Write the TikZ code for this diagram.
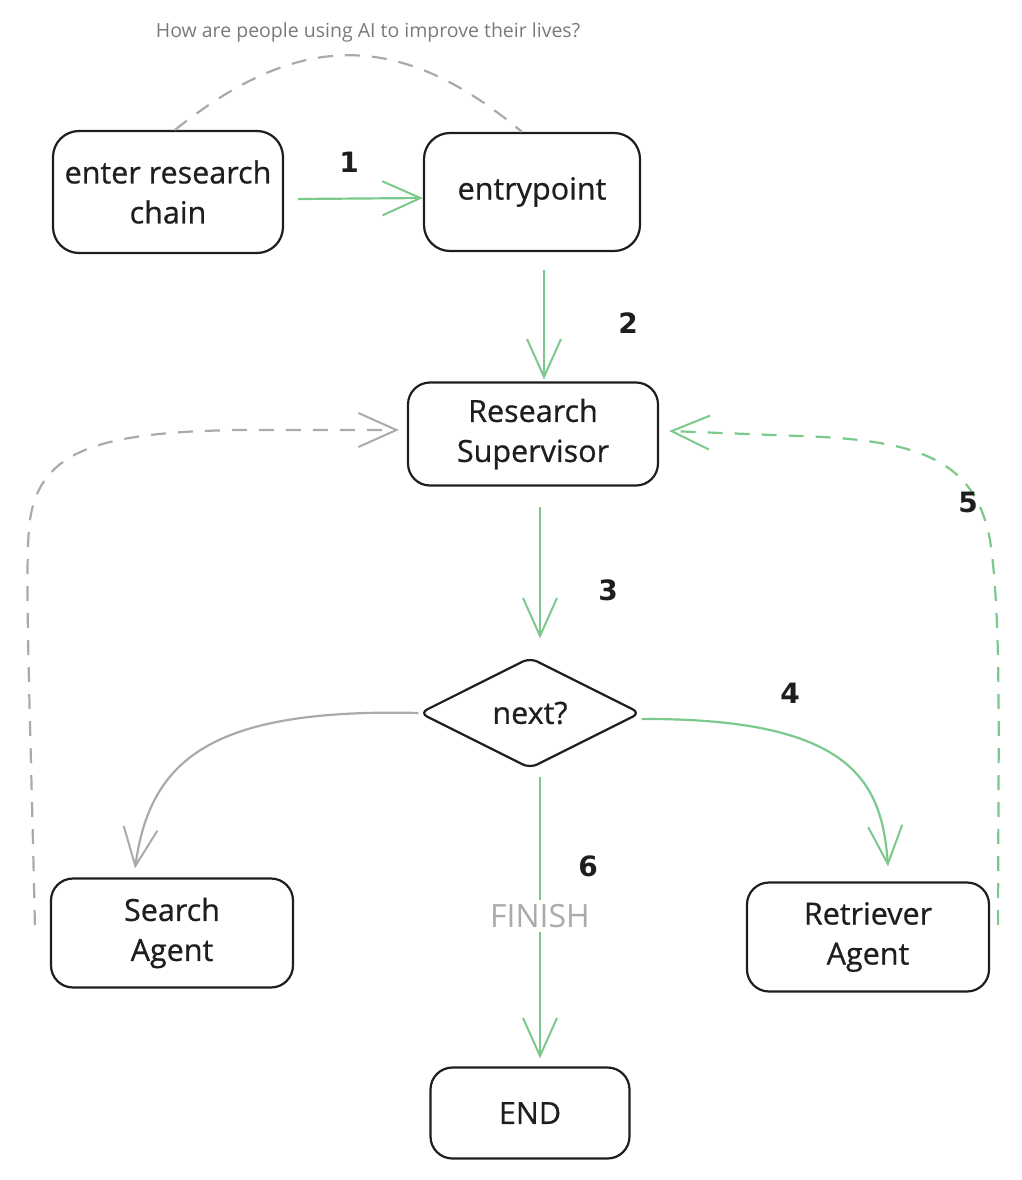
\documentclass[tikz,border=0pt]{standalone}
\usepackage{fontspec}
\setmainfont{Open Sans}
\newfontfamily\medfont{Open Sans}[FakeBold=0.7]
\newfontfamily\numfont{DejaVu Sans}
\usetikzlibrary{arrows.meta,shapes.geometric}
\definecolor{ink}{HTML}{1E1E1E}
\definecolor{gr}{HTML}{7CC98C}
\definecolor{gy}{HTML}{AAAAAA}
\definecolor{capc}{HTML}{7A7A7A}
\tikzset{
  box/.style={draw=ink, line width=2.2pt, rounded corners=22pt, align=center, text=ink, inner sep=0pt,
    font=\medfont\fontsize{30.5}{40}\selectfont},
  dec/.style={draw=ink, line width=2.2pt, shape=diamond, rounded corners=8pt, aspect=2, inner sep=0pt, text=ink,
    font=\medfont\fontsize{30.5}{40}\selectfont},
  tip/.style={-{Straight Barb[length=38pt,width=34pt,line width=2pt]}},
  garrow/.style={tip, draw=gr, line width=2.2pt},
  yarrow/.style={tip, draw=gy, line width=2.2pt},
  dsh/.style={dash pattern=on 15pt off 12pt, line width=2.2pt},
  num/.style={text=ink, font=\numfont\bfseries\fontsize{28}{30}\selectfont},
}
\begin{document}
\begin{tikzpicture}[x=1pt,y=-1pt]
\useasboundingbox (0,0) rectangle (1021,1180);
% caption
\node[text=capc, font=\fontsize{19.5}{22}\selectfont] (cap) at (368,32) {How are people using AI to improve their lives?};
% nodes
\node[box, minimum width=230pt, minimum height=122pt, rounded corners=26pt] (erc) at (168,192) {enter research\\chain};
\node[box, minimum width=216pt, minimum height=118pt, rounded corners=26pt] (ep) at (532,192) {entrypoint};
\node[box, minimum width=250pt, minimum height=103pt] (rs) at (533,434) {Research\\Supervisor};
\node[dec, minimum width=221pt, minimum height=111pt] (nx) at (530,713) {next?};
\node[box, minimum width=242pt, minimum height=109pt] (sa) at (172,933) {Search\\Agent};
\node[box, minimum width=242pt, minimum height=109pt] (ra) at (868,937) {Retriever\\Agent};
\node[box, minimum width=199pt, minimum height=91pt] (end) at (530,1113) {END};
% top dashed arc
\draw[gy, dsh] ([shift={(7,0)}]erc.north) .. controls (300,30) and (400,30) .. ([shift={(-10,0)}]ep.north);
% arrows
\draw[garrow] ([shift={(14,7)}]erc.east) -- ([shift={(0,6)}]ep.west);
\draw[garrow] ([shift={(12,18)}]ep.south) -- ([shift={(11,-2)}]rs.north);
\draw[garrow] ([shift={(7,20)}]rs.south) -- ([shift={(10,-18)}]nx.north);
\draw[yarrow] (nx.west) .. controls (210,708) and (150,760) .. ([shift={(-37,-9)}]sa.north);
\draw[garrow] ([shift={(0,6)}]nx.east) .. controls (850,718) and (882,780) .. ([shift={(20,-15)}]ra.north);
\draw[garrow] ([shift={(10,7)}]nx.south) -- ([shift={(10,-8)}]end.north)
  node[pos=0.495, fill=white, text=gy, inner sep=4pt, font=\fontsize{32}{34}\selectfont] (fin) {FINISH};
\draw[yarrow, dsh] ([shift={(-15,-8)}]sa.west) .. controls (30,700) and (24,560) .. (30,520) .. controls (40,450) and (100,432) .. (240,430) -- ([shift={(-8,-4)}]rs.west);
\draw[garrow, dsh] ([shift={(8,-12)}]ra.east) .. controls (998,750) and (1002,620) .. (990,540) .. controls (975,460) and (920,440) .. (800,436) -- ([shift={(10,-3)}]rs.east);
% numbers
\node[num] (n1) at (349,162) {1};
\node[num] (n2) at (628,323) {2};
\node[num] (n3) at (608,590) {3};
\node[num] (n4) at (790,693) {4};
\node[num] (n5) at (968,502) {5};
\node[num] (n6) at (588,866) {6};
\end{tikzpicture}
\end{document}
